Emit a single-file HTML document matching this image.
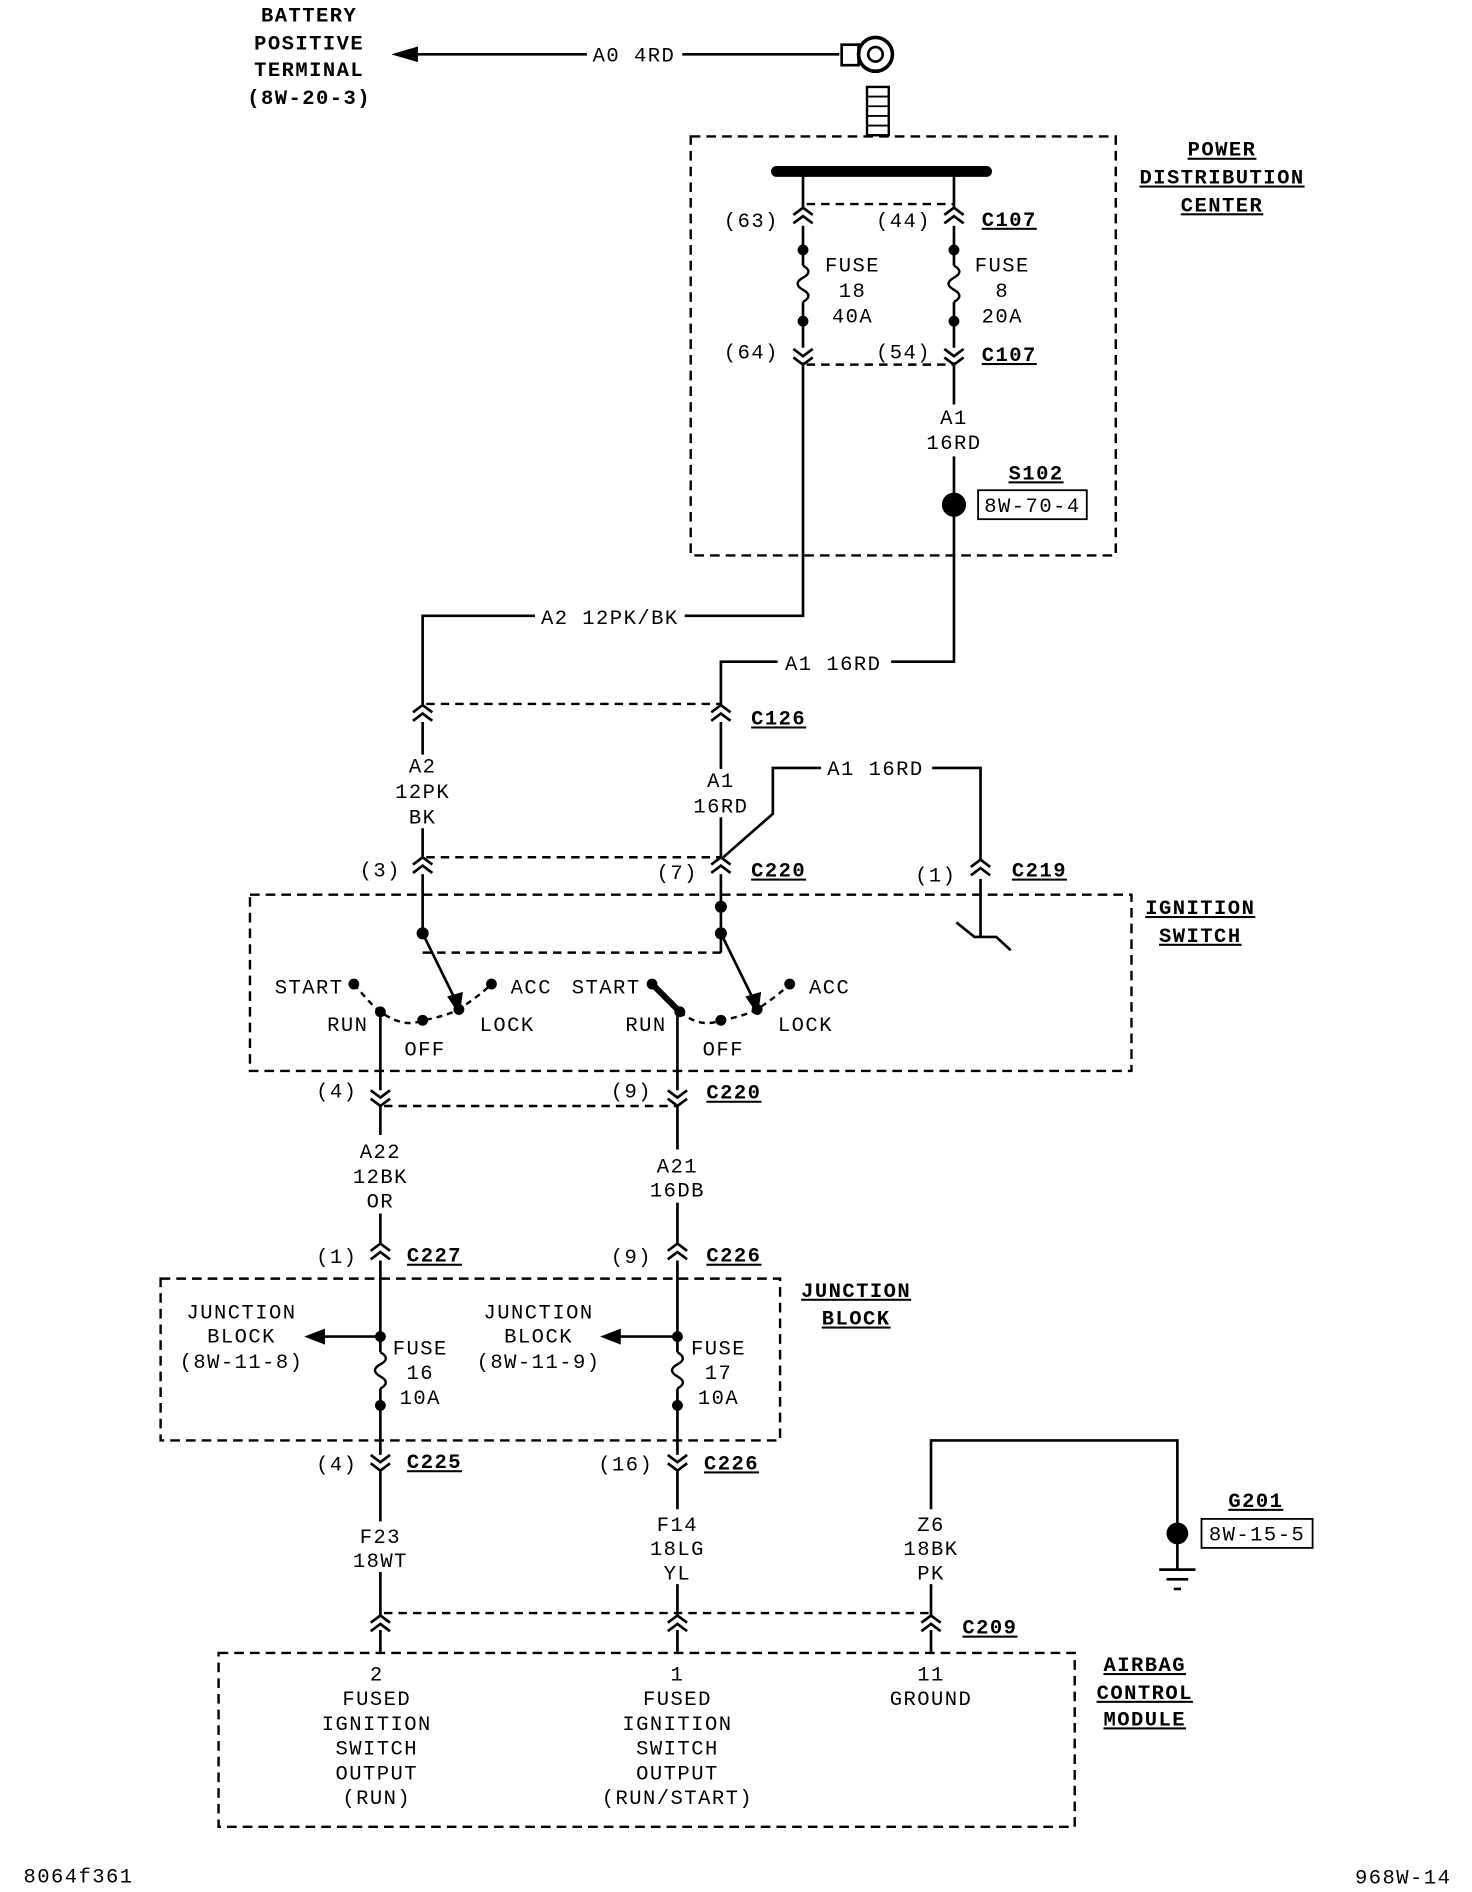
<!DOCTYPE html>
<html><head><style>html,body{margin:0;padding:0;background:#fff}svg{display:block}
text{font-family:"Liberation Mono",monospace;font-size:17px;fill:#000;letter-spacing:1.2px}
.b{font-weight:bold;text-decoration:underline}
.c{text-anchor:middle}
.r{text-anchor:end}
</style></head><body>
<svg width="1472" height="1892" viewBox="0 0 1219 1567" preserveAspectRatio="none" xmlns="http://www.w3.org/2000/svg">
<defs>
<g id="cu"><path d="M-8,6 L0,0 L8,6 M-8,13 L0,7 L8,13" fill="none" stroke="#000" stroke-width="2.2"/></g>
<g id="cd"><path d="M-8,-6 L0,0 L8,-6 M-8,-13 L0,-7 L8,-13" fill="none" stroke="#000" stroke-width="2.2"/></g>
<path id="fz" d="M0,0 q9,5 0,10 q-9,5 0,10 q9,5 0,10" fill="none" stroke="#000" stroke-width="2"/>
</defs>
<g stroke="#000" stroke-width="2.2" fill="none">
<line x1="330" y1="45" x2="695" y2="45"/>
<path d="M328,45 L345,40 L345,50 Z" fill="#000"/>
<rect x="697" y="37" width="14" height="17"/>
<circle cx="725" cy="45" r="14" stroke-width="3"/><circle cx="725" cy="45" r="6"/>
<rect x="718" y="72" width="18" height="40" stroke-width="2"/>
<path d="M718,80 h18 M718,88 h18 M718,96 h18 M718,104 h18" stroke-width="1.5"/>
<rect x="572" y="113" width="352" height="347" stroke-dasharray="8,5" stroke-width="2"/>
<line x1="643" y1="142" x2="817" y2="142" stroke-width="9" stroke-linecap="round"/>
<line x1="665" y1="142" x2="665" y2="172"/><line x1="790" y1="142" x2="790" y2="172"/>
<line x1="668" y1="169" x2="790" y2="169" stroke-dasharray="7,5" stroke-width="2"/>
<line x1="665" y1="187" x2="665" y2="220"/><line x1="790" y1="187" x2="790" y2="220"/>
<line x1="665" y1="250" x2="665" y2="288"/><line x1="790" y1="250" x2="790" y2="288"/>
<line x1="668" y1="302" x2="790" y2="302" stroke-dasharray="7,5" stroke-width="2"/>
<path d="M665,300 V510 H350 V584"/>
<path d="M790,300 V335 M790,378 V548 H597 V584"/>
<line x1="353" y1="583" x2="597" y2="583" stroke-dasharray="7,5" stroke-width="2"/>
<path d="M350,598 V625 M350,686 V710"/>
<path d="M597,598 V637 M597,677 V710"/>
<line x1="353" y1="710" x2="597" y2="710" stroke-dasharray="7,5" stroke-width="2"/>
<path d="M599,710 L640,674 V636 H680 M772,636 H812 V712"/>
<rect x="207" y="741" width="730" height="146" stroke-dasharray="8,5" stroke-width="2"/>
<path d="M812,728 V775 M792,764 L807,776 H825 L837,787"/>
<line x1="350" y1="724" x2="350" y2="773"/>
<line x1="597" y1="724" x2="597" y2="773"/>
<line x1="350" y1="789" x2="597" y2="789" stroke-dasharray="7,5" stroke-width="2"/>
<line x1="597" y1="773" x2="597" y2="789"/>
<path d="M350,773 L378,830"/><path d="M372,826 L380,838 L382,823 Z" fill="#000"/>
<path d="M597,773 L625,830"/><path d="M619,826 L627,838 L629,823 Z" fill="#000"/>
<path d="M293,815 Q310,835 315,838 Q335,852 350,845 Q368,842 380,836 Q398,824 407,815" stroke-dasharray="5,4" stroke-width="2"/>
<path d="M563,838 Q580,852 597,845 Q615,842 627,836 Q645,824 654,815" stroke-dasharray="5,4" stroke-width="2"/>
<path d="M540,815 L563,838" stroke-width="5"/>
<line x1="315" y1="838" x2="315" y2="903"/><line x1="561" y1="838" x2="561" y2="903"/>
<line x1="318" y1="916" x2="561" y2="916" stroke-dasharray="7,5" stroke-width="2"/>
<path d="M315,916 V940 M315,1005 V1030"/><path d="M561,916 V952 M561,996 V1030"/>
<rect x="133" y="1059" width="513" height="134" stroke-dasharray="8,5" stroke-width="2"/>
<path d="M315,1044 V1120 M315,1150 V1205"/><path d="M561,1044 V1120 M561,1150 V1205"/>
<path d="M315,1107 H262"/><path d="M255,1107 L268,1102 L268,1112 Z" fill="#000"/>
<path d="M561,1107 H507"/><path d="M500,1107 L513,1102 L513,1112 Z" fill="#000"/>
<path d="M315,1218 V1260 M315,1302 V1338"/><path d="M561,1218 V1250 M561,1312 V1338"/>
<path d="M771,1250 V1193 H975 V1300"/>
<path d="M771,1312 V1338"/>
<path d="M960,1300 H990 M966,1308 H984 M972,1316 H978"/>
<line x1="318" y1="1336" x2="771" y2="1336" stroke-dasharray="7,5" stroke-width="2"/>
<path d="M315,1350 V1368 M561,1350 V1368 M771,1350 V1368"/>
<rect x="181" y="1369" width="709" height="144" stroke-dasharray="8,5" stroke-width="2"/>
<rect x="810" y="406" width="90" height="24" stroke-width="1.5"/>
<rect x="995" y="1258" width="92" height="24" stroke-width="1.5"/>
</g>
<use href="#cu" x="665" y="172"/><use href="#cu" x="790" y="172"/>
<use href="#cd" x="665" y="302"/><use href="#cd" x="790" y="302"/>
<use href="#cu" x="350" y="584"/><use href="#cu" x="597" y="584"/>
<use href="#cu" x="350" y="710"/><use href="#cu" x="597" y="710"/><use href="#cu" x="812" y="712"/>
<use href="#cd" x="315" y="916"/><use href="#cd" x="561" y="916"/>
<use href="#cu" x="315" y="1030"/><use href="#cu" x="561" y="1030"/>
<use href="#cd" x="315" y="1218"/><use href="#cd" x="561" y="1218"/>
<use href="#cu" x="315" y="1338"/><use href="#cu" x="561" y="1338"/><use href="#cu" x="771" y="1338"/>
<use href="#fz" x="665" y="220"/><use href="#fz" x="790" y="220"/>
<use href="#fz" x="315" y="1120"/><use href="#fz" x="561" y="1120"/>
<g fill="#000">
<circle cx="665" cy="207" r="4.5"/><circle cx="665" cy="266" r="4.5"/>
<circle cx="790" cy="207" r="4.5"/><circle cx="790" cy="266" r="4.5"/>
<circle cx="790" cy="418" r="10"/>
<circle cx="350" cy="773" r="5"/><circle cx="597" cy="751" r="5"/><circle cx="597" cy="773" r="5"/>
<circle cx="293" cy="815" r="4.5"/><circle cx="315" cy="838" r="4.5"/><circle cx="350" cy="845" r="4.5"/><circle cx="380" cy="836" r="4.5"/><circle cx="407" cy="815" r="4.5"/>
<circle cx="540" cy="815" r="4.5"/><circle cx="563" cy="838" r="4.5"/><circle cx="597" cy="845" r="4.5"/><circle cx="627" cy="836" r="4.5"/><circle cx="654" cy="815" r="4.5"/>
<circle cx="315" cy="1107" r="4.5"/><circle cx="315" cy="1164" r="4.5"/>
<circle cx="561" cy="1107" r="4.5"/><circle cx="561" cy="1164" r="4.5"/>
<circle cx="975" cy="1270" r="9"/>
</g>
<text x="256" y="18" class="c" style="font-weight:bold">BATTERY</text>
<text x="256" y="41" class="c" style="font-weight:bold">POSITIVE</text>
<text x="256" y="63" class="c" style="font-weight:bold">TERMINAL</text>
<text x="256" y="86" class="c" style="font-weight:bold">(8W-20-3)</text>
<rect x="486" y="36" width="79" height="18" fill="#fff"/>
<text x="525" y="51" class="c">A0 4RD</text>
<text x="1012" y="129" class="c b">POWER</text>
<text x="1012" y="152" class="c b">DISTRIBUTION</text>
<text x="1012" y="175" class="c b">CENTER</text>
<text x="645" y="188" class="r">(63)</text><text x="771" y="188" class="r">(44)</text><text x="813" y="187" class="b">C107</text>
<text x="706" y="225" class="c">FUSE</text><text x="706" y="246" class="c">18</text><text x="706" y="267" class="c">40A</text>
<text x="830" y="225" class="c">FUSE</text><text x="830" y="246" class="c">8</text><text x="830" y="267" class="c">20A</text>
<text x="645" y="297" class="r">(64)</text><text x="771" y="297" class="r">(54)</text><text x="813" y="299" class="b">C107</text>
<text x="790" y="351" class="c">A1</text><text x="790" y="372" class="c">16RD</text>
<text x="858" y="397" class="c b">S102</text><text x="855" y="424" class="c">8W-70-4</text>
<rect x="443" y="502" width="124" height="18" fill="#fff"/>
<text x="505" y="517" class="c">A2 12PK/BK</text>
<rect x="644" y="540" width="94" height="18" fill="#fff"/>
<text x="690" y="555" class="c">A1 16RD</text>
<text x="622" y="600" class="b">C126</text>
<text x="350" y="640" class="c">A2</text><text x="350" y="661" class="c">12PK</text><text x="350" y="682" class="c">BK</text>
<text x="597" y="652" class="c">A1</text><text x="597" y="673" class="c">16RD</text>
<text x="725" y="642" class="c">A1 16RD</text>
<text x="332" y="726" class="r">(3)</text><text x="578" y="728" class="r">(7)</text><text x="622" y="726" class="b">C220</text>
<text x="792" y="730" class="r">(1)</text><text x="838" y="726" class="b">C219</text>
<text x="994" y="757" class="c b">IGNITION</text><text x="994" y="780" class="c b">SWITCH</text>
<text x="256" y="823" class="c">START</text><text x="440" y="823" class="c">ACC</text>
<text x="288" y="854" class="c">RUN</text><text x="352" y="874" class="c">OFF</text><text x="420" y="854" class="c">LOCK</text>
<text x="502" y="823" class="c">START</text><text x="687" y="823" class="c">ACC</text>
<text x="535" y="854" class="c">RUN</text><text x="599" y="874" class="c">OFF</text><text x="667" y="854" class="c">LOCK</text>
<text x="296" y="909" class="r">(4)</text><text x="540" y="909" class="r">(9)</text><text x="585" y="910" class="b">C220</text>
<text x="315" y="959" class="c">A22</text><text x="315" y="980" class="c">12BK</text><text x="315" y="1000" class="c">OR</text>
<text x="561" y="971" class="c">A21</text><text x="561" y="991" class="c">16DB</text>
<text x="296" y="1046" class="r">(1)</text><text x="337" y="1045" class="b">C227</text>
<text x="540" y="1046" class="r">(9)</text><text x="585" y="1045" class="b">C226</text>
<text x="709" y="1074" class="c b">JUNCTION</text><text x="709" y="1097" class="c b">BLOCK</text>
<text x="200" y="1092" class="c">JUNCTION</text><text x="200" y="1112" class="c">BLOCK</text><text x="200" y="1133" class="c">(8W-11-8)</text>
<text x="446" y="1092" class="c">JUNCTION</text><text x="446" y="1112" class="c">BLOCK</text><text x="446" y="1133" class="c">(8W-11-9)</text>
<text x="348" y="1122" class="c">FUSE</text><text x="348" y="1142" class="c">16</text><text x="348" y="1163" class="c">10A</text>
<text x="595" y="1122" class="c">FUSE</text><text x="595" y="1142" class="c">17</text><text x="595" y="1163" class="c">10A</text>
<text x="296" y="1218" class="r">(4)</text><text x="337" y="1216" class="b">C225</text>
<text x="541" y="1218" class="r">(16)</text><text x="583" y="1217" class="b">C226</text>
<text x="315" y="1278" class="c">F23</text><text x="315" y="1298" class="c">18WT</text>
<text x="561" y="1268" class="c">F14</text><text x="561" y="1288" class="c">18LG</text><text x="561" y="1308" class="c">YL</text>
<text x="771" y="1268" class="c">Z6</text><text x="771" y="1288" class="c">18BK</text><text x="771" y="1308" class="c">PK</text>
<text x="1040" y="1248" class="c b">G201</text><text x="1041" y="1276" class="c">8W-15-5</text>
<text x="797" y="1353" class="b">C209</text>
<text x="948" y="1384" class="c b">AIRBAG</text><text x="948" y="1407" class="c b">CONTROL</text><text x="948" y="1429" class="c b">MODULE</text>
<text x="312" y="1392" class="c">2</text><text x="312" y="1412" class="c">FUSED</text><text x="312" y="1433" class="c">IGNITION</text><text x="312" y="1453" class="c">SWITCH</text><text x="312" y="1474" class="c">OUTPUT</text><text x="312" y="1494" class="c">(RUN)</text>
<text x="561" y="1392" class="c">1</text><text x="561" y="1412" class="c">FUSED</text><text x="561" y="1433" class="c">IGNITION</text><text x="561" y="1453" class="c">SWITCH</text><text x="561" y="1474" class="c">OUTPUT</text><text x="561" y="1494" class="c">(RUN/START)</text>
<text x="771" y="1392" class="c">11</text><text x="771" y="1412" class="c">GROUND</text>
<text x="65" y="1559" class="c">8064f361</text>
<text x="1162" y="1560" class="c">968W-14</text>
</svg>
</body></html>
